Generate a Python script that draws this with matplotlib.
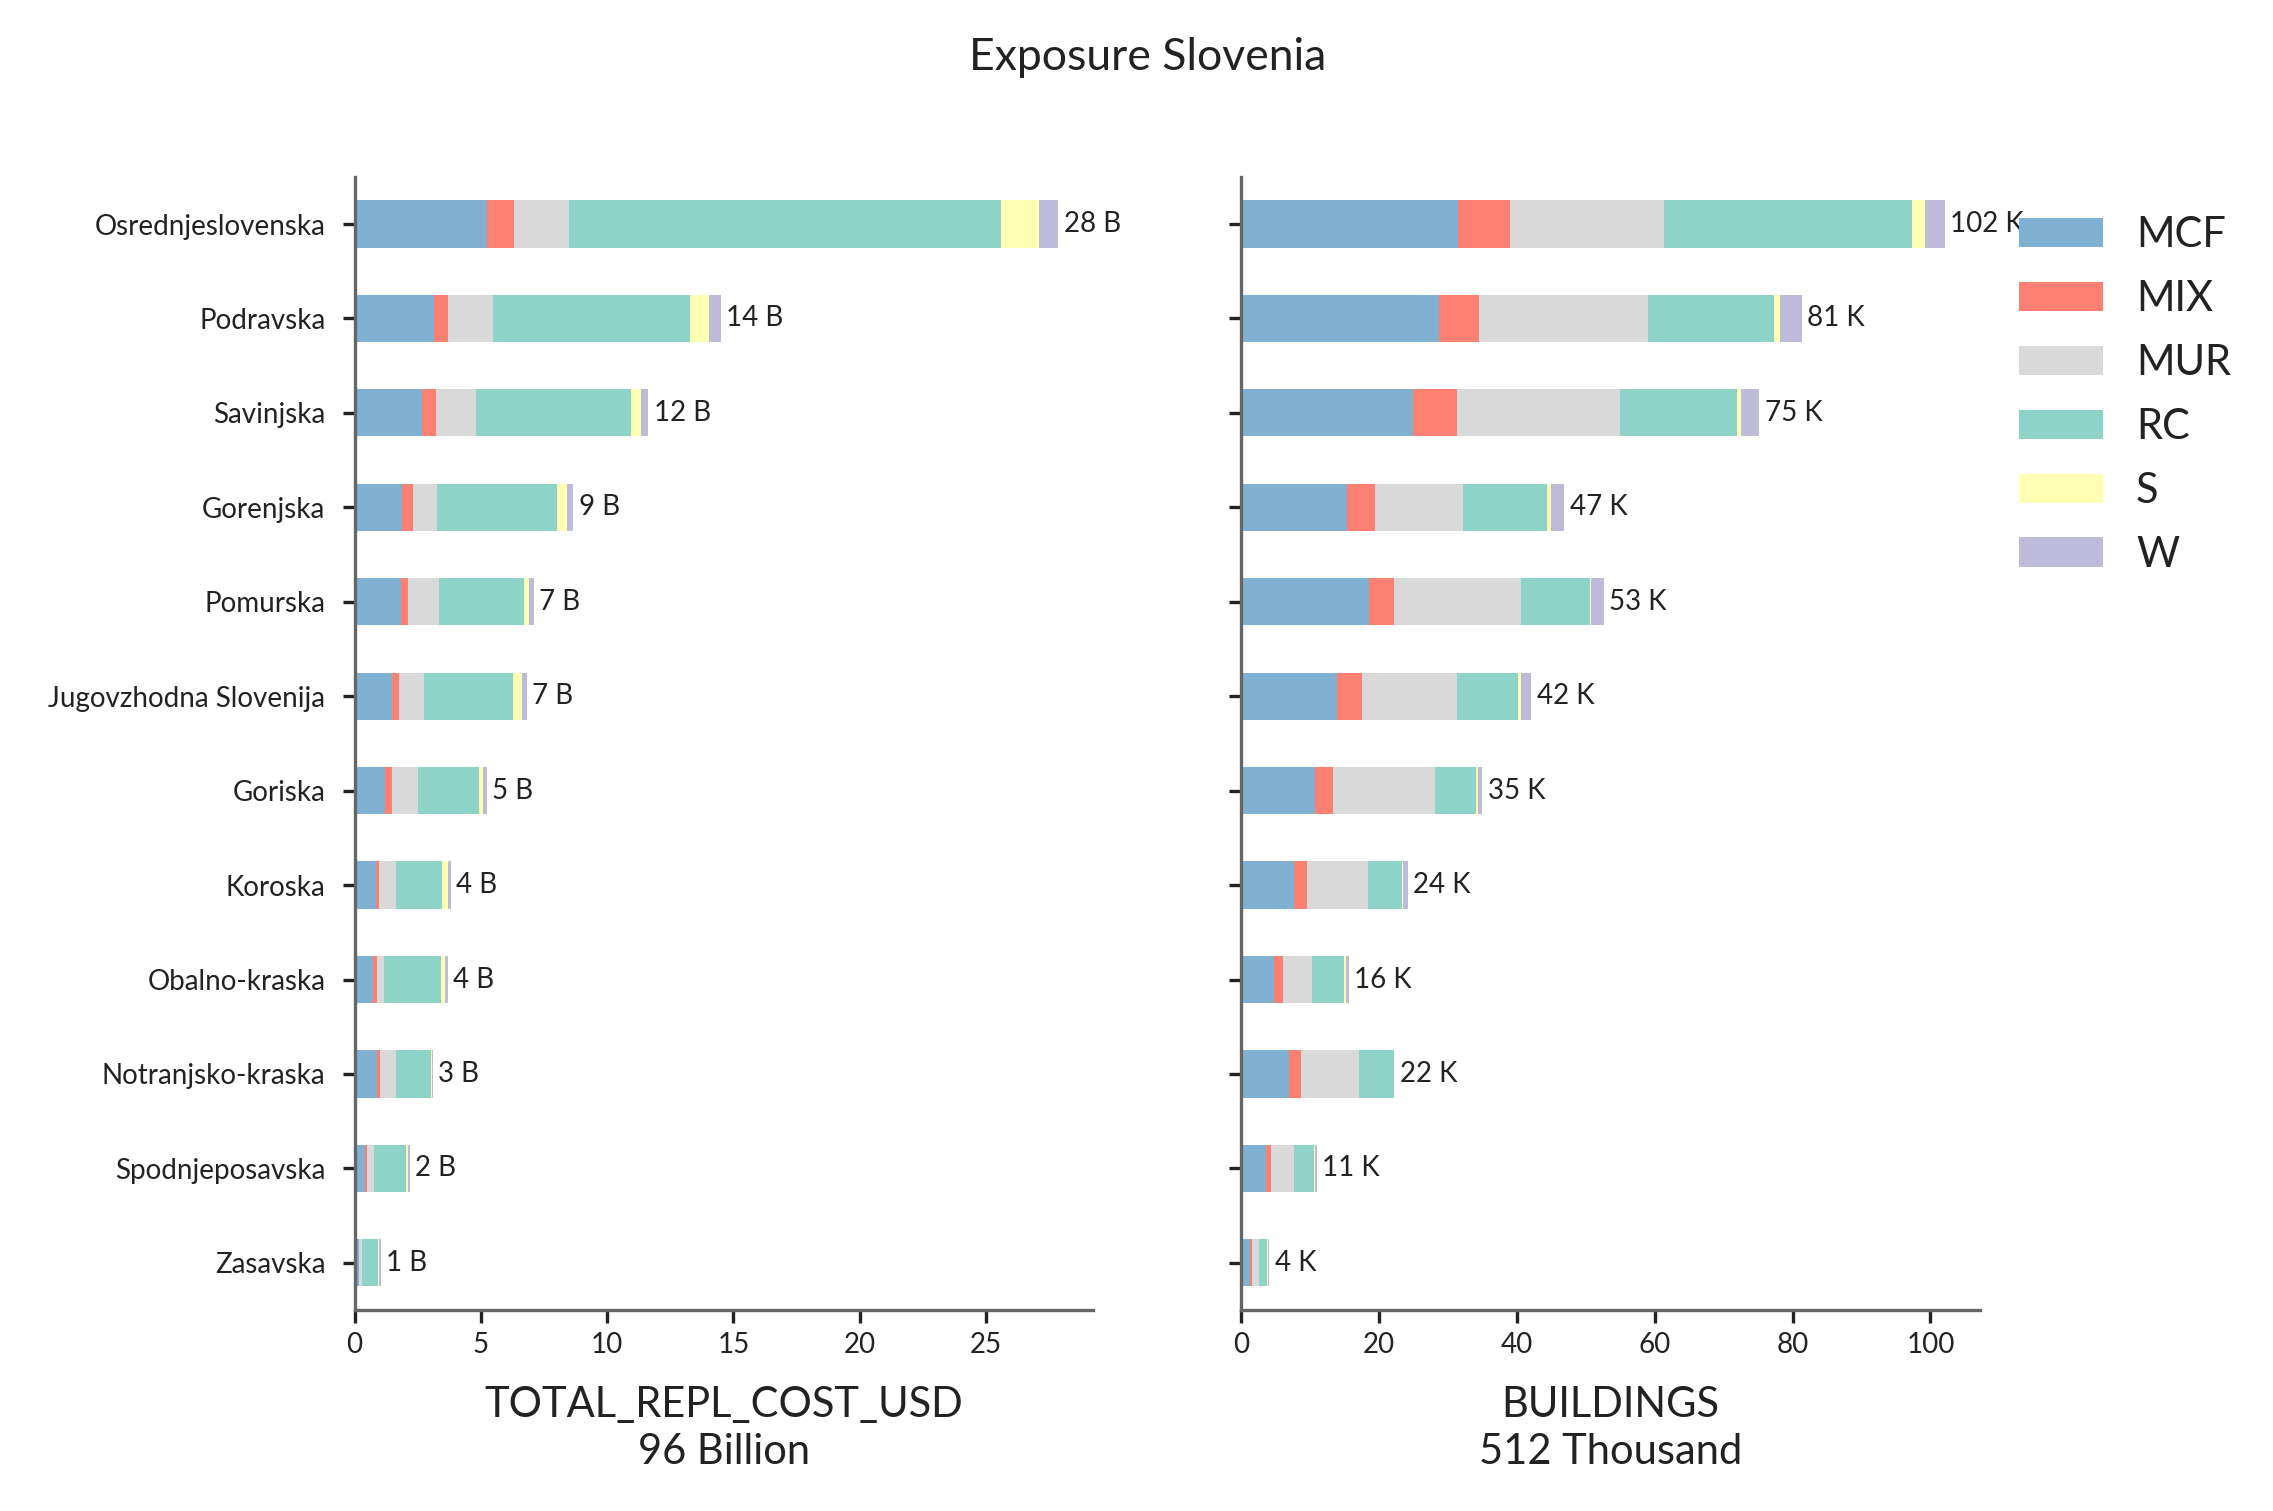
import numpy as np
import pandas as pd
from matplotlib import pyplot as plt

plt.rcParams['font.family'] = ['Lato', 'DejaVu Sans']

regions = ['Osrednjeslovenska', 'Podravska', 'Savinjska', 'Gorenjska', 'Pomurska',
           'Jugovzhodna Slovenija', 'Goriska', 'Koroska', 'Obalno-kraska',
           'Notranjsko-kraska', 'Spodnjeposavska', 'Zasavska']
taxonomies = ['MCF', 'MIX', 'MUR', 'RC', 'S', 'W']
colors = ['#80b1d3', '#fb8072', '#d9d9d9', '#8dd3c7', '#ffffb3', '#bebada']

# replacement cost, billion USD
cost_mcf = [5.24, 3.13, 2.66, 1.89, 1.83, 1.48, 1.20, 0.83, 0.71, 0.87, 0.41, 0.16]
cost_mix = [1.06, 0.55, 0.55, 0.41, 0.28, 0.27, 0.28, 0.15, 0.16, 0.15, 0.10, 0.02]
cost_mur = [2.20, 1.79, 1.61, 0.95, 1.22, 0.99, 1.02, 0.65, 0.31, 0.61, 0.24, 0.10]
cost_rc = [17.11, 7.80, 6.14, 4.78, 3.36, 3.52, 2.42, 1.85, 2.23, 1.40, 1.28, 0.65]
cost_s = [1.50, 0.75, 0.40, 0.40, 0.20, 0.35, 0.18, 0.20, 0.17, 0.04, 0.10, 0.05]
cost_w = [0.75, 0.47, 0.27, 0.23, 0.20, 0.20, 0.14, 0.12, 0.10, 0.02, 0.06, 0.06]

# number of buildings, thousand
bld_mcf = [31.48, 28.67, 24.93, 15.35, 18.59, 13.98, 10.69, 7.65, 4.77, 6.93, 3.61, 1.23]
bld_mix = [7.57, 5.91, 6.41, 4.03, 3.53, 3.60, 2.60, 1.88, 1.29, 1.73, 0.79, 0.29]
bld_mur = [22.26, 24.43, 23.70, 12.88, 18.47, 13.76, 14.80, 8.95, 4.19, 8.38, 3.25, 1.15]
bld_rc = [36.00, 18.30, 16.93, 12.18, 10.01, 8.86, 5.99, 4.84, 4.62, 5.13, 2.89, 1.16]
bld_s = [1.87, 0.86, 0.57, 0.57, 0.22, 0.36, 0.29, 0.22, 0.29, 0.03, 0.22, 0.14]
bld_w = [2.88, 3.17, 2.60, 1.88, 1.80, 1.51, 0.58, 0.65, 0.44, 0.02, 0.21, 0.15]

cost = pd.DataFrame(dict(zip(taxonomies, [cost_mcf, cost_mix, cost_mur, cost_rc, cost_s, cost_w])),
                    index=regions)
bld = pd.DataFrame(dict(zip(taxonomies, [bld_mcf, bld_mix, bld_mur, bld_rc, bld_s, bld_w])),
                   index=regions)


def stackedBars(ax, df, unit):
    y = np.arange(len(df))
    left = np.zeros(len(df))
    for tax, col in zip(df.columns, colors):
        bars = ax.barh(y, df[tax], left=left, height=0.5, color=col, label=tax)
        left = left + df[tax].values
    totals = df.sum(axis=1)
    ax.bar_label(bars, labels=[f"{round(t)} {unit}" for t in totals],
                 padding=2, fontsize=10, color='#222222')
    ax.set_ylim(len(df) - 0.5, -0.5)
    ax.set_yticks(y)
    for side in ['top', 'right']:
        ax.spines[side].set_visible(False)
    for side in ['left', 'bottom']:
        ax.spines[side].set_color('#666666')
        ax.spines[side].set_linewidth(1.2)
    ax.tick_params(axis='both', labelsize=10, width=1.2, length=4.5, color='#222222',
                   labelcolor='#222222')
    ax.tick_params(axis='y', pad=6)
    return totals.sum()


fig, (ax1, ax2) = plt.subplots(1, 2, figsize=(11.365, 7.555), dpi=200)
fig.subplots_adjust(left=0.156, right=0.871, bottom=0.133, top=0.883, wspace=0.2)

total_cost = stackedBars(ax1, cost, 'B')
ax1.set_yticklabels(regions)
ax1.set_xlabel(f"TOTAL_REPL_COST_USD\n{round(total_cost)} Billion", fontsize=15,
               color='#222222', labelpad=10, linespacing=1.3)

total_bld = stackedBars(ax2, bld, 'K')
ax2.set_yticklabels([])
ax2.set_xlabel(f"BUILDINGS\n{round(total_bld)} Thousand", fontsize=15,
               color='#222222', labelpad=10, linespacing=1.3)

ax2.legend(bbox_to_anchor=(1.0, 1.0), loc='upper left', frameon=False, fontsize=15,
           labelcolor='#222222', labelspacing=0.62, borderaxespad=0.55)

fig.suptitle("Exposure Slovenia", fontsize=16, x=0.505, y=0.962, va='center', color='#222222')

plt.savefig('out.png', dpi=200)
